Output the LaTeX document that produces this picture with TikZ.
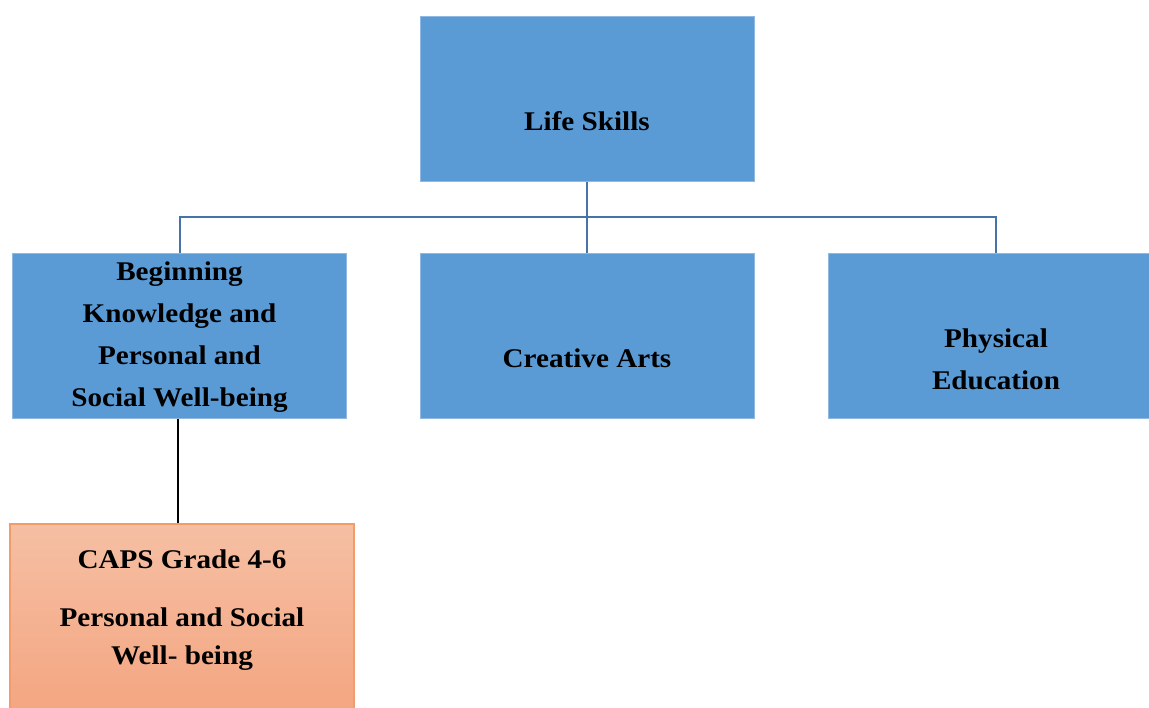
\documentclass[tikz,border=0pt]{standalone}
\usepackage{fontspec}
\setmainfont{Liberation Serif}[FakeStretch=1.08]
\usetikzlibrary{positioning}
\definecolor{boxblue}{HTML}{5B9BD5}
\definecolor{boxedge}{HTML}{8FB8E3}
\definecolor{linkblue}{HTML}{4673A8}
\definecolor{captop}{HTML}{F5BFA3}
\definecolor{capbot}{HTML}{F4A47F}
\definecolor{capedge}{HTML}{F29C6C}

\begin{document}
\begin{tikzpicture}[
  x=1pt, y=-1pt,
  font=\bfseries\fontsize{27}{42}\selectfont,
  topic/.style={rectangle, draw=boxedge, line width=1pt, fill=boxblue,
                minimum width=334pt, minimum height=165pt, inner sep=0pt},
  caps/.style={rectangle, draw=capedge, line width=1.2pt,
               top color=captop, bottom color=capbot,
               minimum width=344pt, minimum height=200pt, inner sep=0pt},
  txt/.style={align=center, inner sep=0pt},
  link/.style={draw=linkblue, line width=2pt},
  plain/.style={draw=black, line width=1.6pt}
]
\useasboundingbox (0,0) rectangle (1149,708);

% ---------------- boxes ----------------
\node[topic] (life) at (587,99) {};
\node[topic] (bk) at (179.5,336) {};
\node[topic] (ca) at (587,336) {};
\node[topic, minimum width=322pt] (pe) at (989,336) {};
\node[caps] (cap) at (182,624) {};

% ---------------- texts ----------------
\node[txt] (lifeT) at (587,121) {Life Skills};
\node[txt] (bkT) at (179.5,337) {Beginning\\Knowledge and\\Personal and\\Social Well-being};
\node[txt] (caT) at (587,358) {Creative Arts};
\node[txt] (peT) at (996,359) {Physical\\Education};
\node[txt, font=\bfseries\fontsize{27}{38}\selectfont] (capT) at (182,610)
  {CAPS Grade 4-6\\[20pt] Personal and Social\\Well- being};

% ---------------- connectors ----------------
\coordinate (bus) at (587,217);
\coordinate (peTop) at ([xshift=7pt]pe.north);
\coordinate (bkBot) at ([xshift=-1.5pt]bk.south);
\draw[link, line width=2.6pt] (life.south) -- (bus);
\draw[link] (bk.north) |- (bus) -| (peTop);
\draw[link] (bus) -- (ca.north);
\draw[plain] (bkBot) -- (cap.north -| bkBot);
\end{tikzpicture}
\end{document}
